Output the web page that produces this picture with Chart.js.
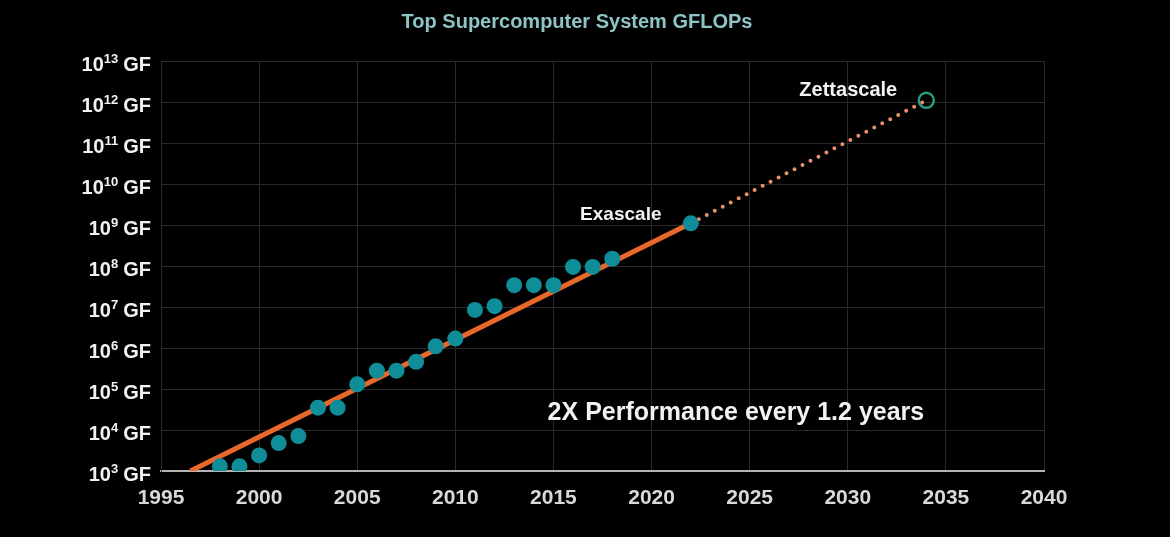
<!DOCTYPE html>
<html>
<head>
<meta charset="utf-8">
<title>Top Supercomputer System GFLOPs</title>
<script src="https://cdn.jsdelivr.net/npm/chart.js@4/dist/chart.umd.min.js"></script>
<style>
  html, body { margin: 0; padding: 0; background: #000; }
  canvas { display: block; }
</style>
</head>
<body>
<canvas id="chart" width="1170" height="537"></canvas>
<script>
// top system per year (GFLOPs)
const systemYears = [1998, 1999, 2000, 2001, 2002, 2003, 2004, 2005, 2006, 2007, 2008,
  2009, 2010, 2011, 2012, 2013, 2014, 2015, 2016, 2017, 2018, 2022];
const systemGflops = [1.3e3, 1.3e3, 2.4e3, 4.8e3, 7.1e3, 3.5e4, 3.5e4, 1.3e5, 2.8e5, 2.8e5, 4.6e5,
  1.1e6, 1.7e6, 8.5e6, 1.05e7, 3.4e7, 3.4e7, 3.4e7, 9.5e7, 9.5e7, 1.5e8, 1.1e9];

// fitted trend and projection
const trendYears = [1996.5, 2022];
const trendGflops = [1e3, 1.1e9];
const projectionYears = [2022, 2034];
const projectionGflops = [1.1e9, 1.1e12];

// zettascale target
const targetYears = [2034];
const targetGflops = [1.1e12];

const yTickExponents = [3, 4, 5, 6, 7, 8, 9, 10, 11, 12, 13];
const xTickYears = [1995, 2000, 2005, 2010, 2015, 2020, 2025, 2030, 2035, 2040];

const toPoints = (xs, ys) => xs.map((x, i) => ({ x: x, y: ys[i] }));

const FONT = "'Liberation Sans', Arial, sans-serif";

// title, a little left of the page centre like the slide
const slideTitle = {
  id: 'slideTitle',
  afterDraw(chart) {
    const { ctx } = chart;
    ctx.save();
    ctx.fillStyle = '#8ec4c6';
    ctx.textAlign = 'center';
    ctx.textBaseline = 'middle';
    ctx.font = 'bold 20px ' + FONT;
    ctx.fillText('Top Supercomputer System GFLOPs', 577, 22);
    ctx.restore();
  }
};

// y labels as 10^n GF with a real superscript
const yLabels = {
  id: 'yLabels',
  afterDraw(chart) {
    const { ctx, scales } = chart;
    const y = scales.y;
    const right = y.right - 10;
    ctx.save();
    ctx.fillStyle = '#f2f2f2';
    ctx.textBaseline = 'alphabetic';
    ctx.textAlign = 'left';
    y.ticks.forEach(t => {
      const py = y.getPixelForValue(t.value);
      const exp = String(Math.round(Math.log10(t.value)));
      ctx.font = 'bold 20px ' + FONT;
      const wBase = ctx.measureText('10').width;
      const wUnit = ctx.measureText('GF').width;
      ctx.font = 'bold 13px ' + FONT;
      const wExp = ctx.measureText(exp).width;
      const gap = 5;
      let x = right - (wBase + wExp + gap + wUnit);
      ctx.font = 'bold 20px ' + FONT;
      ctx.fillText('10', x, py + 10);
      x += wBase;
      ctx.font = 'bold 13px ' + FONT;
      ctx.fillText(exp, x, py + 2);
      x += wExp + gap;
      ctx.font = 'bold 20px ' + FONT;
      ctx.fillText('GF', x, py + 10);
    });
    ctx.restore();
  }
};

// text annotations
const notes = {
  id: 'notes',
  afterDatasetsDraw(chart) {
    const { ctx, scales } = chart;
    const xs = scales.x, ys = scales.y;
    const last = systemYears.length - 1;
    const exaX = xs.getPixelForValue(systemYears[last]);
    const exaY = ys.getPixelForValue(systemGflops[last]);
    const zetX = xs.getPixelForValue(targetYears[0]);
    const zetY = ys.getPixelForValue(targetGflops[0]);
    ctx.save();
    ctx.fillStyle = '#f2f2f2';
    ctx.textAlign = 'center';
    ctx.textBaseline = 'middle';
    ctx.font = 'bold 19px ' + FONT;
    ctx.fillText('Exascale', exaX - 70, exaY - 9);
    ctx.font = 'bold 20px ' + FONT;
    ctx.fillText('Zettascale', zetX - 78, zetY - 10);
    ctx.font = 'bold 25px ' + FONT;
    ctx.fillText('2X Performance every 1.2 years', xs.getPixelForValue(2024.3), ys.getPixelForValue(Math.pow(10, 4.41)));
    ctx.restore();
  }
};

new Chart(document.getElementById('chart'), {
  type: 'scatter',
  data: {
    datasets: [
      {
        label: 'Systems',
        data: toPoints(systemYears, systemGflops),
        backgroundColor: '#0f8e9a',
        borderWidth: 0,
        pointRadius: 8,
        order: 1
      },
      {
        label: 'Zettascale',
        data: toPoints(targetYears, targetGflops),
        backgroundColor: 'rgba(0,0,0,0)',
        borderColor: '#2b9b84',
        borderWidth: 2.4,
        pointRadius: 7.5,
        order: 2
      },
      {
        label: 'Trend',
        data: toPoints(trendYears, trendGflops),
        showLine: true,
        borderColor: '#e8682c',
        borderWidth: 5,
        pointRadius: 0,
        order: 3
      },
      {
        label: 'Projection',
        data: toPoints(projectionYears, projectionGflops),
        showLine: true,
        borderColor: '#e8916a',
        borderWidth: 4,
        borderDash: [0, 9],
        borderCapStyle: 'round',
        pointRadius: 0,
        order: 4
      }
    ]
  },
  options: {
    responsive: false,
    animation: false,
    layout: { padding: { left: 0, right: 126, top: 61, bottom: 0 } },
    plugins: {
      legend: { display: false },
      tooltip: { enabled: false },
      title: { display: false }
    },
    scales: {
      x: {
        type: 'linear',
        min: 1995,
        max: 2040,
        afterBuildTicks: s => { s.ticks = xTickYears.map(v => ({ value: v })); },
        afterFit: s => { s.height = 66; },
        grid: { color: '#2a2a2a', lineWidth: 1, drawTicks: false },
        border: { color: '#b4b4b4', width: 2 },
        ticks: {
          color: '#d9d9d9',
          padding: 15,
          font: { family: FONT, size: 21, weight: 'bold' },
          callback: v => String(v)
        }
      },
      y: {
        type: 'logarithmic',
        min: 1e3,
        max: 1e13,
        afterBuildTicks: s => { s.ticks = yTickExponents.map(e => ({ value: Math.pow(10, e) })); },
        afterFit: s => { s.width = 161; },
        grid: { color: '#2a2a2a', lineWidth: 1, drawTicks: false },
        border: { color: '#2a2a2a', width: 1 },
        ticks: { display: false }
      }
    }
  },
  plugins: [yLabels, notes, slideTitle]
});
</script>
</body>
</html>
